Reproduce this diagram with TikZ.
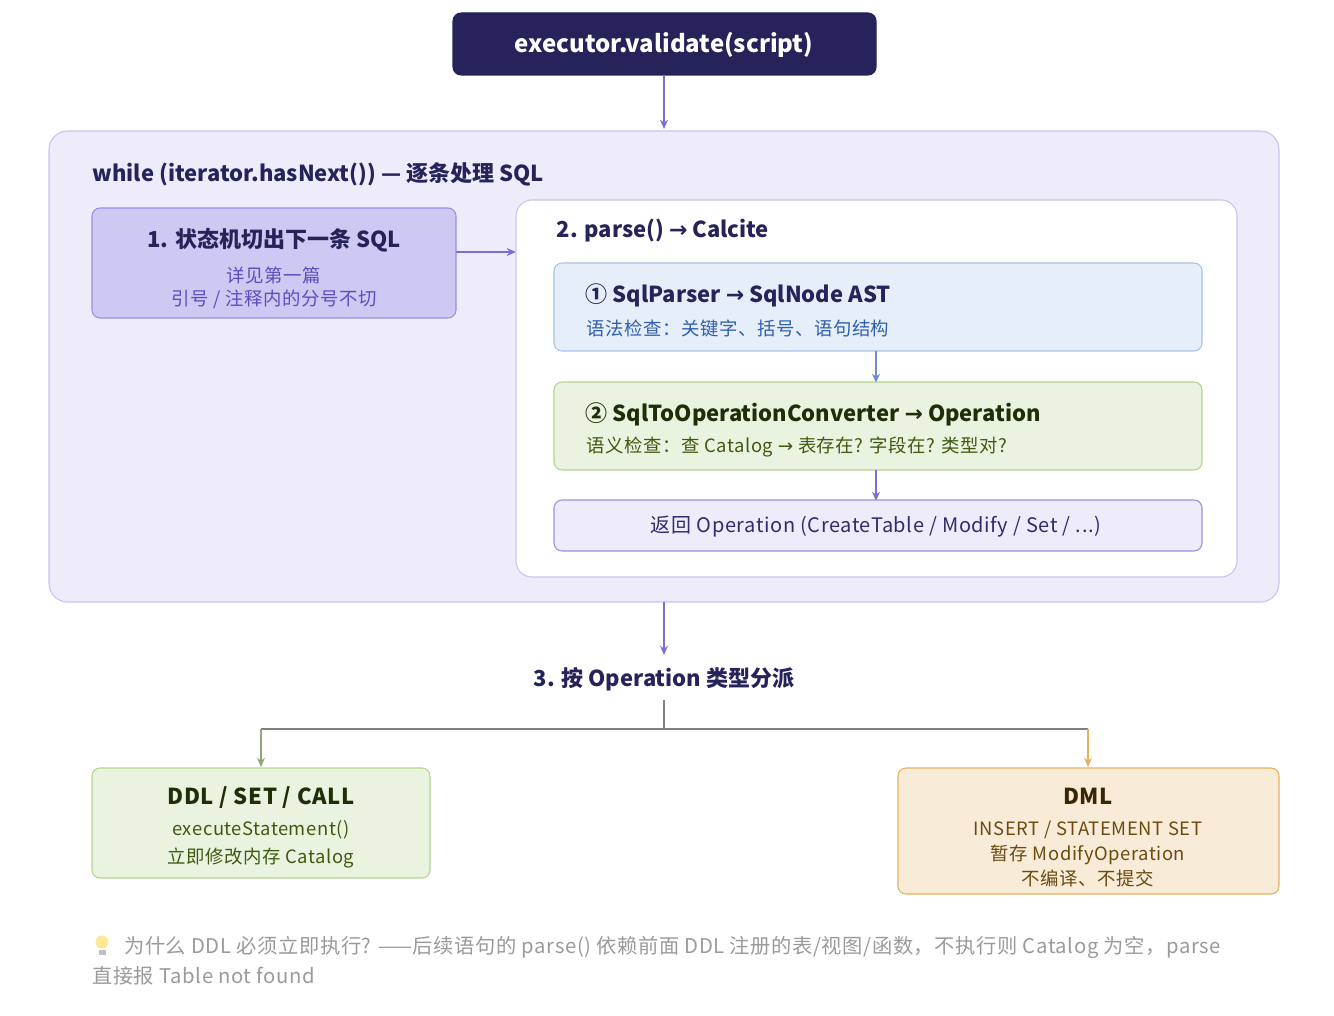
\documentclass[tikz,border=0pt]{standalone}
\usepackage{fontspec}
\setmainfont{Noto Sans CJK SC}
\newfontfamily\wide[LetterSpace=3]{Noto Sans CJK SC}
\newfontfamily\symf{DejaVu Sans}
\usetikzlibrary{arrows.meta}
\definecolor{navy}{HTML}{26235A}
\definecolor{lav}{HTML}{EEECFB}
\definecolor{lavb}{HTML}{C9C3F0}
\definecolor{pur}{HTML}{7B6FD6}
\definecolor{box1}{HTML}{CDC9F3}
\definecolor{box1b}{HTML}{9A90E0}
\definecolor{pursub}{HTML}{5A4EC0}
\definecolor{blf}{HTML}{E6EEFA}
\definecolor{blb}{HTML}{A7C4EA}
\definecolor{blt}{HTML}{2F5FAE}
\definecolor{grf}{HTML}{EAF3DF}
\definecolor{grb}{HTML}{B3D48F}
\definecolor{grt}{HTML}{3D5A10}
\definecolor{grtt}{HTML}{1F2E08}
\definecolor{orf}{HTML}{F8ECD8}
\definecolor{orb}{HTML}{E6B060}
\definecolor{ort}{HTML}{6B4A10}
\definecolor{ortt}{HTML}{3A2606}
\definecolor{gr}{HTML}{9A9A9A}
\begin{document}
\begin{tikzpicture}[x=0.75pt,y=-0.75pt,
  box/.style={rounded corners=6pt,line width=0.8pt},
  arr/.style={-{Stealth[length=7pt,width=6pt]},line width=1pt,pur},
  ttl/.style={font=\bfseries\fontsize{16.5}{20}\selectfont,text=navy},
  sub/.style={font=\wide\fontsize{13.8}{17}\selectfont}]
\useasboundingbox (0,0) rectangle (1334,1016);
% top
\draw[box,fill=navy,draw=navy] (453,13) rectangle (876,75);
\node[font=\bfseries\fontsize{18}{22}\selectfont,text=white] (top) at (664,45) {executor.validate(script)};
\coordinate (tb) at (664,75);
\coordinate (bt) at (664,129);
\draw[arr] (tb) -- (bt);
% loop box
\draw[rounded corners=14pt,line width=0.8pt,fill=lav,draw=lavb] (49,131) rectangle (1279,602);
\node[ttl,anchor=west] (wh) at (88,174) {while (iterator.hasNext()) — 逐条处理 SQL};
% box1
\draw[box,fill=box1,draw=box1b] (92,208) rectangle (456,318);
\node[ttl] (b1) at (274,240) {1. 状态机切出下一条 SQL};
\node[sub,text=pursub,align=center] (b1s) at (274,288) {详见第一篇\\引号 / 注释内的分号不切};
\coordinate (b1r) at (456,252);
\coordinate (b2l) at (516,252);
\draw[arr] (b1r) -- (b2l);
% box2
\draw[rounded corners=12pt,line width=0.8pt,fill=white,draw=lavb] (516,200) rectangle (1237,577);
\node[ttl,anchor=west] (p) at (552,231) {2. parse() {\symf →} Calcite};
\draw[box,fill=blf,draw=blb] (554,263) rectangle (1202,351);
\node[ttl,anchor=west] (s1) at (581,295) {① SqlParser {\symf →} SqlNode AST};
\node[sub,text=blt,anchor=west] (s1s) at (582,328) {语法检查：关键字、括号、语句结构};
\coordinate (a1) at (876,351); \coordinate (a2) at (876,383);
\draw[arr,blt!70] (a1) -- (a2);
\draw[box,fill=grf,draw=grb] (554,382) rectangle (1202,470);
\node[ttl,anchor=west,text=grtt] (s2) at (581,414) {② SqlToOperationConverter {\symf →} Operation};
\node[sub,text=grt,anchor=west] (s2s) at (582,447) {语义检查：查 Catalog {\symf →} 表存在? 字段在? 类型对?};
\coordinate (a3) at (876,470); \coordinate (a4) at (876,501);
\draw[arr] (a3) -- (a4);
\draw[box,fill=lav,draw=box1b] (554,500) rectangle (1202,551);
\node[font=\wide\fontsize{15}{18}\selectfont,text=navy!80!pursub] (ret) at (876,527) {返回 Operation (CreateTable / Modify / Set / ...)};
% dispatch
\coordinate (lb) at (664,602); \coordinate (dt) at (664,655);
\draw[arr] (lb) -- (dt);
\node[ttl] (d) at (664,679) {3. 按 Operation 类型分派};
\coordinate (j0) at (664,700); \coordinate (j1) at (664,729);
\coordinate (jl) at (261,729); \coordinate (jr) at (1088,729);
\coordinate (le) at (261,767); \coordinate (re) at (1088,767);
\draw[line width=1pt,gray] (j0) -- (j1) (jl) -- (jr);
\draw[-{Stealth[length=7pt,width=6pt]},line width=1pt,grb!80!black] (jl) -- (le);
\draw[-{Stealth[length=7pt,width=6pt]},line width=1pt,orb] (jr) -- (re);
% left
\draw[box,fill=grf,draw=grb] (92,768) rectangle (430,878);
\node[ttl,text=grtt,font=\bfseries\wide\fontsize{16.5}{20}\selectfont] (l1) at (261,798) {DDL / SET / CALL};
\node[sub,text=grt,align=center] (l2) at (261,844) {executeStatement()\\[4pt]立即修改内存 Catalog};
% right
\draw[box,fill=orf,draw=orb] (898,768) rectangle (1279,894);
\node[ttl,text=ortt] (r1) at (1088,796) {DML};
\node[sub,text=ort,align=center] (r2) at (1088,854) {INSERT / STATEMENT SET\\[2pt]暂存 ModifyOperation\\[2pt]不编译、不提交};
% footnote
\fill[yellow!60!orange!40] (102,942) circle (6.5);
\fill[gray!50] (98.5,950) rectangle (105.5,955);
\node[anchor=north west,text=gr,font=\wide\fontsize{15.2}{22.5}\selectfont,inner sep=0pt] (fn) at (124,936) {为什么 DDL 必须立即执行? ——后续语句的 parse() 依赖前面 DDL 注册的表/视图/函数，不执行则 Catalog 为空，parse};
\node[anchor=north west,text=gr,font=\wide\fontsize{15.2}{22.5}\selectfont,inner sep=0pt] (fn2) at (92,966) {直接报 Table not found};
\end{tikzpicture}
\end{document}
